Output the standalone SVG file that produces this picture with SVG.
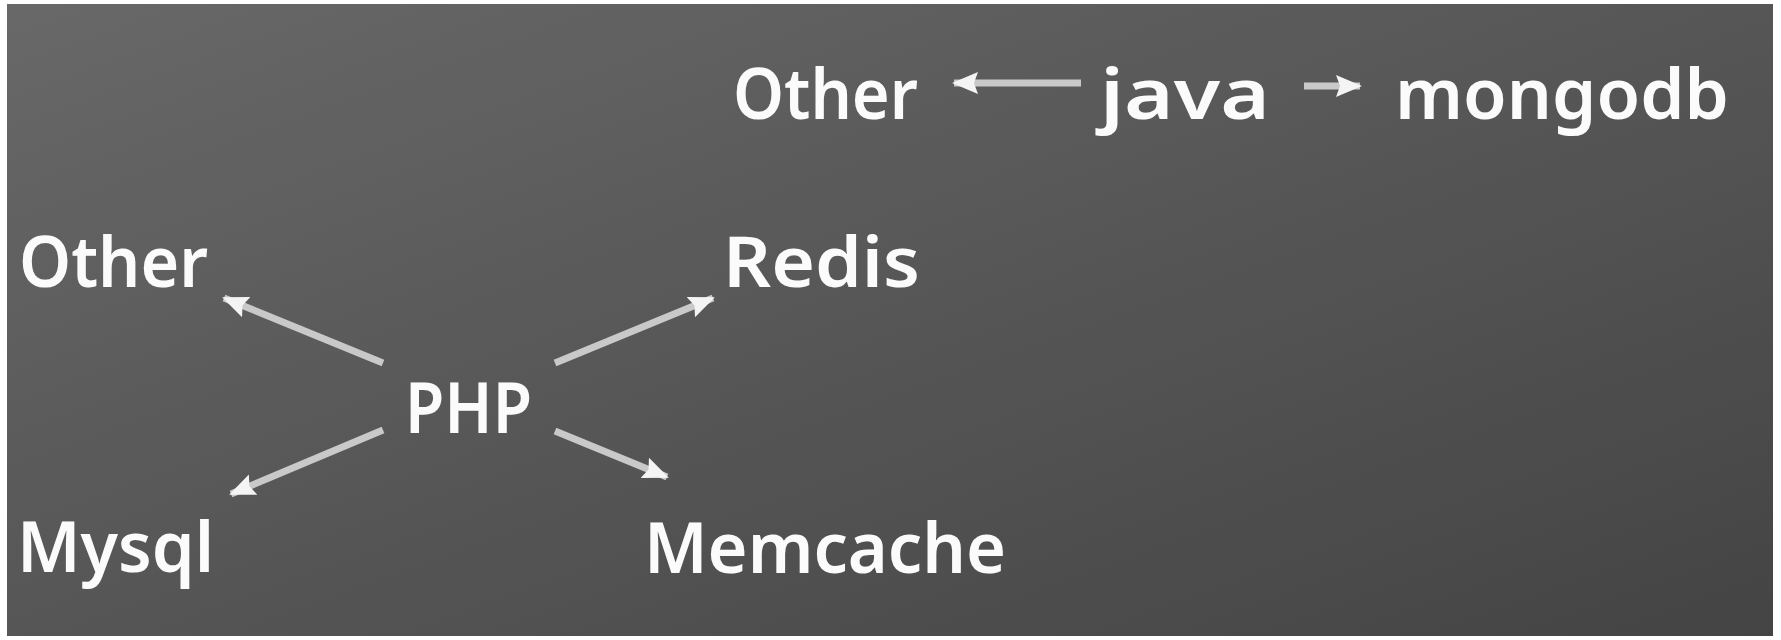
<svg xmlns="http://www.w3.org/2000/svg" width="1781" height="640" viewBox="0 0 1781 640">
<defs>
<linearGradient id="bg" x1="0" y1="0" x2="1" y2="1">
<stop offset="0" stop-color="#686868"/>
<stop offset="1" stop-color="#444444"/>
</linearGradient>
<marker id="ah" markerUnits="userSpaceOnUse" markerWidth="28" markerHeight="28" viewBox="0 0 28 28" refX="24" refY="14" orient="auto">
<path d="M0,3 L26,14 L0,25 L4,14 Z" fill="#f4f4f4"/>
</marker>
<style>
.lbl{font-family:"Noto Sans","DejaVu Sans",sans-serif;font-weight:600;font-size:70px;fill:#fbfbfb;}
.edge{stroke:#c9c9c9;stroke-width:7;fill:none;marker-end:url(#ah);}
</style>
</defs>
<rect x="0" y="0" width="1781" height="640" fill="#ffffff"/>
<rect x="7" y="4" width="1766" height="632" fill="url(#bg)"/>
<g id="connectors">
<line class="edge" x1="1081" y1="83" x2="954" y2="83"/>
<line class="edge" x1="1304" y1="86" x2="1360" y2="86"/>
<line class="edge" x1="383" y1="363" x2="224" y2="298"/>
<line class="edge" x1="555" y1="363" x2="713" y2="298"/>
<line class="edge" x1="383" y1="430" x2="231" y2="494"/>
<line class="edge" x1="555" y1="431" x2="667" y2="477"/>
</g>
<g id="node-other-java"><text class="lbl" x="733" y="119" textLength="185" lengthAdjust="spacingAndGlyphs">Other</text></g>
<g id="node-java"><text class="lbl" x="1100" y="119" textLength="170" lengthAdjust="spacingAndGlyphs">java</text></g>
<g id="node-mongodb"><text class="lbl" x="1395" y="119" textLength="334" lengthAdjust="spacingAndGlyphs">mongodb</text></g>
<g id="node-other-php"><text class="lbl" x="19" y="287" textLength="189" lengthAdjust="spacingAndGlyphs">Other</text></g>
<g id="node-redis"><text class="lbl" x="723" y="287" textLength="197" lengthAdjust="spacingAndGlyphs">Redis</text></g>
<g id="node-php"><text class="lbl" x="405" y="433" textLength="127" lengthAdjust="spacingAndGlyphs">PHP</text></g>
<g id="node-mysql"><text class="lbl" x="17" y="572" textLength="197" lengthAdjust="spacingAndGlyphs">Mysql</text></g>
<g id="node-memcache"><text class="lbl" x="644" y="573" textLength="362" lengthAdjust="spacingAndGlyphs">Memcache</text></g>
</svg>
